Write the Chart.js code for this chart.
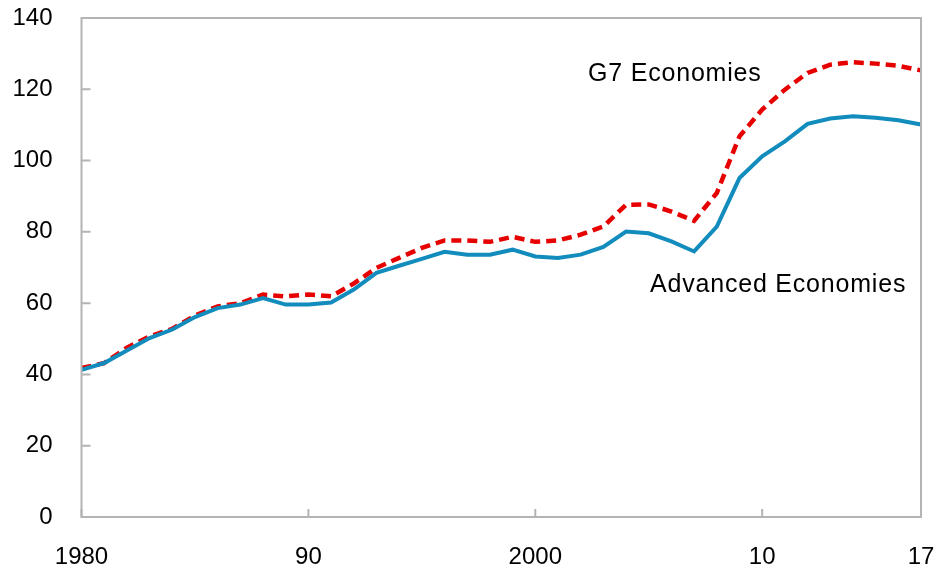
<!DOCTYPE html>
<html>
<head>
<meta charset="utf-8">
<script src="https://cdn.jsdelivr.net/npm/chart.js@4"></script>
<style>
  html, body { margin: 0; padding: 0; background: #fff; }
  #wrap { width: 939px; height: 575px; }
</style>
</head>
<body>
<div id="wrap"><canvas id="debt"></canvas></div>
<script>
var years = [];
for (var y = 1980; y <= 2017; y++) years.push(String(y));

var advanced = [41.3, 43.2, 46.7, 50.2, 52.6, 56.1, 58.6, 59.6, 61.4, 59.6,
                59.6, 60.2, 63.8, 68.5, 70.5, 72.4, 74.4, 73.6, 73.6, 75.0,
                73.1, 72.7, 73.6, 75.8, 80.1, 79.6, 77.3, 74.5, 81.5, 95.1,
                101.2, 105.4, 110.3, 111.8, 112.4, 112.0, 111.3, 110.1];

var g7 = [41.8, 43.2, 47.5, 50.7, 52.8, 56.5, 59.1, 60.0, 62.4, 61.9,
          62.4, 61.9, 65.5, 69.9, 72.7, 75.5, 77.6, 77.6, 77.2, 78.6,
          77.2, 77.6, 79.2, 81.5, 87.6, 87.7, 85.7, 83.1, 90.9, 106.8,
          114.3, 119.9, 124.6, 126.9, 127.6, 127.2, 126.6, 125.3];

var xTickYears = ['1980', '1990', '2000', '2010', '2017'];
var xTickLabels = ['1980', '90', '2000', '10', '17'];
var yTicks = [0, 20, 40, 60, 80, 100, 120, 140];

var AXIS_COLOR = '#b4b4b4';
var FONT = 'Liberation Sans, Arial, sans-serif';

// box round the plot and small tick marks pointing inward
var framePlugin = {
  id: 'frame',
  afterDatasetsDraw: function(c) {
    var ctx = c.ctx;
    var a = c.chartArea;
    var xs = c.scales.x, ys = c.scales.y;
    ctx.save();
    ctx.strokeStyle = AXIS_COLOR;
    ctx.lineWidth = 2;
    ctx.strokeRect(a.left, a.top, a.right - a.left, a.bottom - a.top);
    ctx.beginPath();
    yTicks.forEach(function(v) {
      var py = ys.getPixelForValue(v);
      ctx.moveTo(a.left, py);
      ctx.lineTo(a.left + 9, py);
    });
    xTickYears.forEach(function(yr) {
      var px = xs.getPixelForValue(years.indexOf(yr));
      ctx.moveTo(px, a.bottom);
      ctx.lineTo(px, a.bottom - 8);
    });
    ctx.stroke();
    ctx.restore();
  }
};

// series names written next to the lines
var namePlugin = {
  id: 'names',
  afterDatasetsDraw: function(c) {
    var ctx = c.ctx;
    ctx.save();
    ctx.fillStyle = '#000';
    ctx.font = '25px ' + FONT;
    ctx.letterSpacing = '0.8px';
    ctx.textBaseline = 'middle';
    ctx.textAlign = 'left';
    ctx.fillText('G7 Economies', 588, 74);
    ctx.fillText('Advanced Economies', 650, 285);
    ctx.restore();
  }
};

document.addEventListener('DOMContentLoaded', function() {
  new Chart(document.getElementById('debt'), {
    type: 'line',
    data: {
      labels: years,
      datasets: [{
        label: 'Advanced Economies',
        data: advanced,
        borderColor: '#118cbd',
        borderWidth: 4,
        pointRadius: 0,
        tension: 0
      }, {
        label: 'G7 Economies',
        data: g7,
        borderColor: '#e60000',
        borderWidth: 4.5,
        borderDash: [10, 6],
        pointRadius: 0,
        tension: 0
      }]
    },
    options: {
      responsive: true,
      maintainAspectRatio: false,
      animation: false,
      layout: { padding: { top: 18, right: 18, left: 0, bottom: 0 } },
      plugins: {
        legend: { display: false },
        tooltip: { enabled: false }
      },
      scales: {
        x: {
          type: 'category',
          offset: false,
          grid: { display: false, drawTicks: false },
          border: { display: false },
          afterFit: function(s) {
            s.height = 58;
            s.paddingLeft = 0;
            s.paddingRight = 0;
          },
          ticks: {
            autoSkip: false,
            maxRotation: 0,
            padding: 26,
            color: '#000',
            font: { family: FONT, size: 24 },
            callback: function(val, i) {
              var k = xTickYears.indexOf(years[i]);
              return k >= 0 ? xTickLabels[k] : null;
            }
          }
        },
        y: {
          min: 0,
          max: 140,
          grid: { display: false, drawTicks: false },
          border: { display: false },
          afterFit: function(s) {
            s.width = 81.5;
            s.paddingTop = 0;
            s.paddingBottom = 0;
          },
          ticks: {
            stepSize: 20,
            padding: 29,
            color: '#000',
            font: { family: FONT, size: 24 }
          }
        }
      }
    },
    plugins: [framePlugin, namePlugin]
  });
});
</script>
</body>
</html>
